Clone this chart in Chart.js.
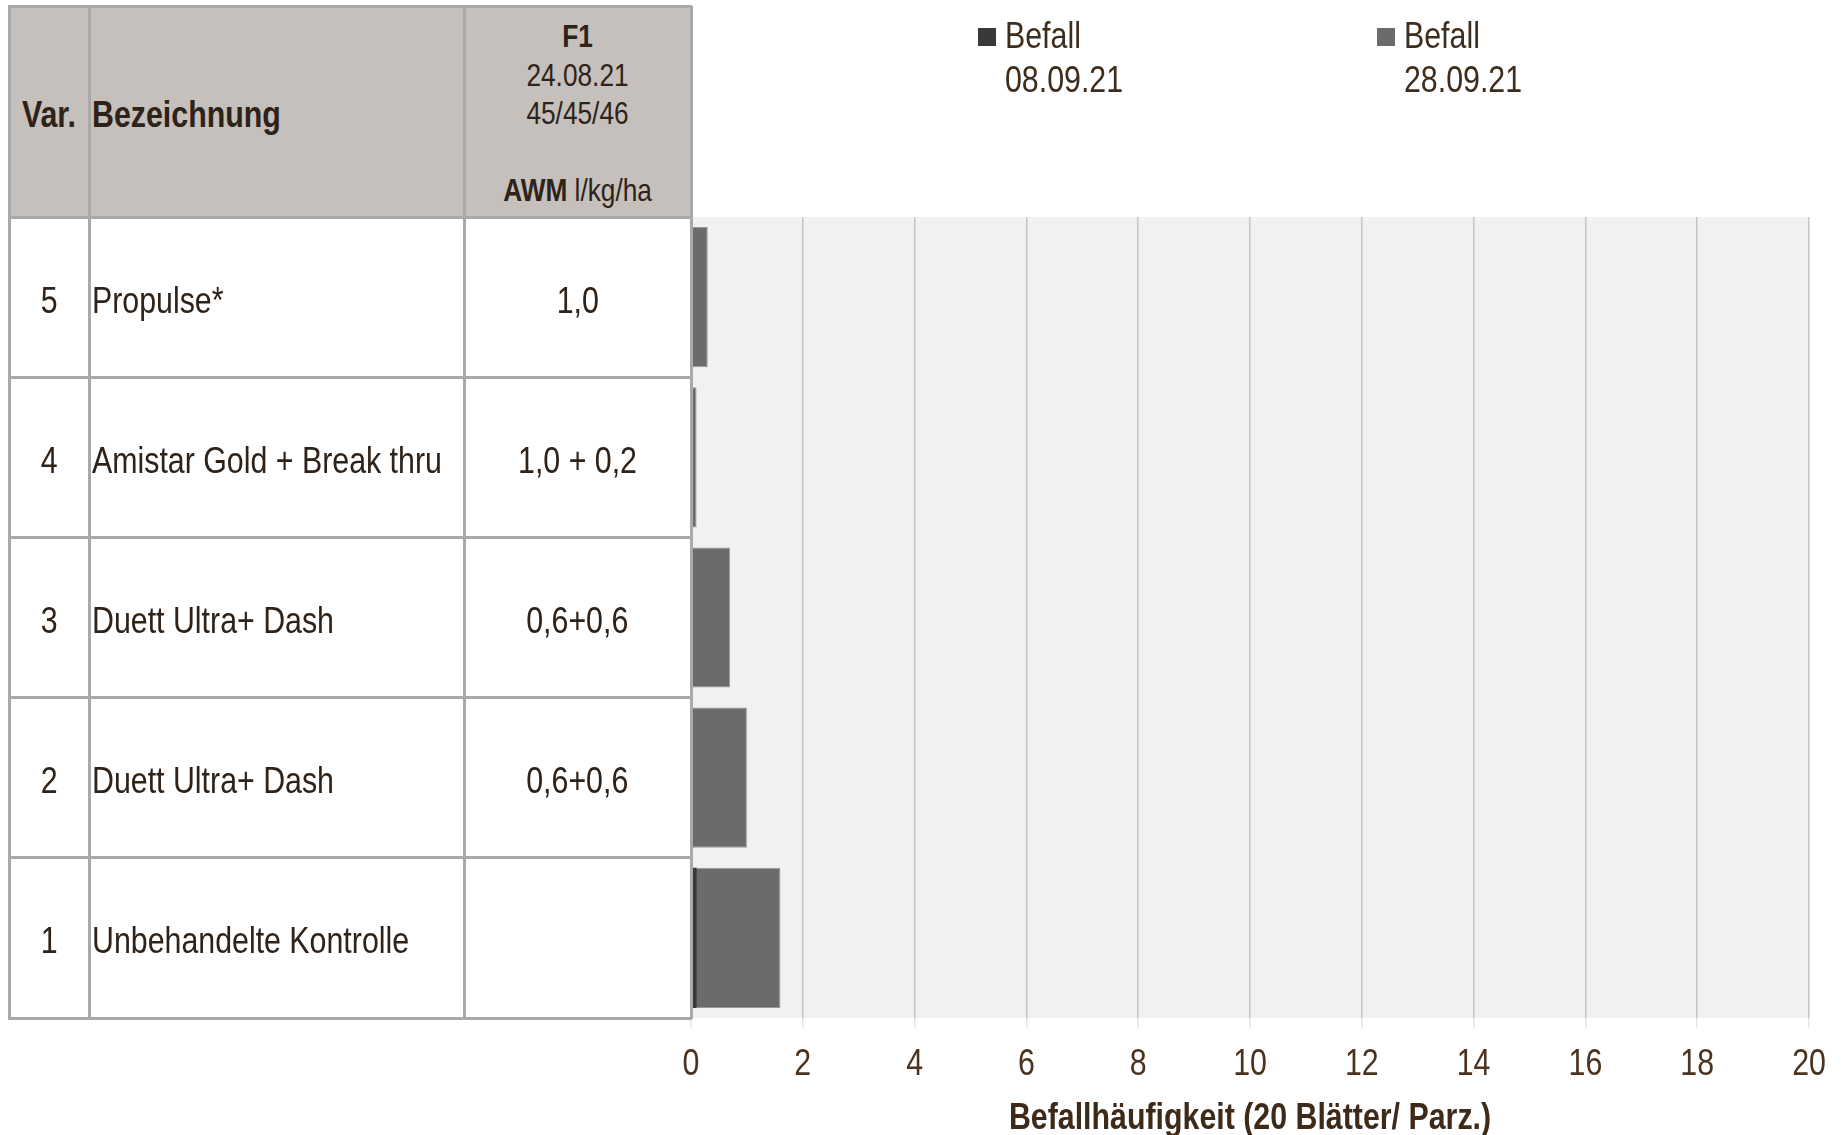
<!DOCTYPE html>
<html>
<head>
<meta charset="utf-8">
<script src="https://cdn.jsdelivr.net/npm/chart.js@4.4.1/dist/chart.umd.min.js"></script>
<style>
html,body{margin:0;padding:0;background:#fff;width:1841px;height:1135px;overflow:hidden;}
body{position:relative;font-family:"Liberation Sans",Arial,sans-serif;color:#2e2219;}
#chart{position:absolute;left:0;top:0;}
.cell{position:absolute;box-sizing:border-box;display:flex;align-items:center;white-space:nowrap;font-size:37px;line-height:44px;}
.row{padding-top:7px;}
.n{display:inline-block;transform:scaleX(0.82);white-space:nowrap;}
.c{transform-origin:center center;}
.l{transform-origin:left center;}
.hline,.vline{position:absolute;background:#a9a9a9;}
.leg{position:absolute;font-size:37px;line-height:44px;color:#3e2c1c;white-space:nowrap;transform:scaleX(0.82);transform-origin:left top;}
.sw{position:absolute;width:18px;height:18px;}
</style>
</head>
<body>
<canvas id="chart" width="1841" height="1135"></canvas>
<div id="table"></div>
<div id="legend"></div>
<script>
// ---- data ----
const varNumbers = ['5', '4', '3', '2', '1'];
const treatments = ['Propulse*', 'Amistar Gold + Break thru', 'Duett Ultra+ Dash', 'Duett Ultra+ Dash', 'Unbehandelte Kontrolle'];
const rates = ['1,0', '1,0 + 0,2', '0,6+0,6', '0,6+0,6', ''];
const befall0809 = [0, 0, 0, 0, 0.1];
const befall2809 = [0.3, 0.1, 0.7, 1.0, 1.6];
const seriesNames = ['Befall', 'Befall'];
const seriesDates = ['08.09.21', '28.09.21'];
const headerVar = 'Var.';
const headerName = 'Bezeichnung';
const headerF1 = ['F1', '24.08.21', '45/45/46'];
const headerUnitBold = 'AWM';
const headerUnit = ' l/kg/ha';
const xTitle = 'Befallhäufigkeit (20 Blätter/ Parz.)';
const xMin = 0, xMax = 20, xStep = 2;

const colors = ['#393939', '#6b6b6b'];
const textBrown = '#4a331f';
const NARROW = 0.82;

const plotBg = {
  id: 'plotBg',
  beforeDraw(chart) {
    const {ctx, chartArea: a} = chart;
    ctx.save();
    ctx.fillStyle = '#f2f1ef';
    ctx.fillRect(a.left, a.top, a.right - a.left, a.bottom - a.top);
    ctx.restore();
  }
};

// condensed axis labels / title, placed with the x scale's own pixel mapping
function narrowText(ctx, text, x, y) {
  const w = ctx.measureText(text).width;
  ctx.fillText(text, x, y, w * NARROW);
}
const narrowAxis = {
  id: 'narrowAxis',
  afterDraw(chart) {
    const {ctx} = chart;
    const xs = chart.scales.x;
    ctx.save();
    ctx.fillStyle = textBrown;
    ctx.textAlign = 'center';
    ctx.textBaseline = 'alphabetic';
    ctx.font = '37px "Liberation Sans", Arial, sans-serif';
    xs.ticks.forEach(t => narrowText(ctx, String(t.label), xs.getPixelForValue(t.value), xs.top + 57));
    ctx.fillStyle = '#3e2a18';
    ctx.font = 'bold 37px "Liberation Sans", Arial, sans-serif';
    narrowText(ctx, xTitle, (xs.left + xs.right) / 2, xs.top + 111);
    ctx.restore();
  }
};

const chart = new Chart(document.getElementById('chart'), {
  type: 'bar',
  data: {
    labels: varNumbers,
    datasets: [
      {label: seriesNames[0] + ' ' + seriesDates[0], data: befall0809, backgroundColor: colors[0], borderWidth: 0},
      {label: seriesNames[1] + ' ' + seriesDates[1], data: befall2809, backgroundColor: colors[1], borderColor: '#9a9a9a', borderWidth: 1}
    ]
  },
  options: {
    indexAxis: 'y',
    responsive: false,
    devicePixelRatio: 1,
    animation: false,
    grouped: false,
    barPercentage: 0.875,
    categoryPercentage: 1,
    layout: {padding: {left: 691, right: 32, top: 217, bottom: 0}},
    plugins: {legend: {display: false}, tooltip: {enabled: false}},
    scales: {
      y: {display: false},
      x: {
        min: xMin, max: xMax,
        afterFit(scale) { scale.height = 117; },
        ticks: {stepSize: xStep, display: false},
        grid: {color: '#c4c4c4', lineWidth: 1.5, tickLength: 10, tickColor: '#e6e6e6'},
        border: {display: false},
        title: {display: false, text: xTitle}
      }
    }
  },
  plugins: [plotBg, narrowAxis]
});

// ---- table built from the chart's own category scale ----
(function buildTable() {
  const t = document.getElementById('table');
  const a = chart.chartArea;
  const ys = chart.scales.y;
  const n = varNumbers.length;
  const rowH = (a.bottom - a.top) / n;
  const X = [9, 89, 464, a.left];
  const headTop = 6, headBot = a.top;
  const add = (html) => t.insertAdjacentHTML('beforeend', html);
  add(`<div style="position:absolute;left:${X[0]}px;top:${headTop}px;width:${X[3]-X[0]}px;height:${headBot-headTop}px;background:#c5c0bb"></div>`);
  add(`<div class="cell" style="left:${X[0]}px;top:${headTop}px;width:${X[1]-X[0]}px;height:${headBot-headTop+6}px;justify-content:center;font-weight:bold;color:#2e2219"><span class="n c">${headerVar}</span></div>`);
  add(`<div class="cell" style="left:${X[1]+3}px;top:${headTop}px;width:${X[2]-X[1]}px;height:${headBot-headTop+6}px;font-weight:bold;color:#2e2219"><span class="n l">${headerName}</span></div>`);
  const f1 = headerF1.map((s, i) => i === 0 ? `<b>${s}</b>` : s).join('<br>');
  add(`<div style="position:absolute;left:${X[2]}px;top:17px;width:${X[3]-X[2]}px;text-align:center;font-size:32px;line-height:38.5px;color:#2e2219;transform:scaleX(${NARROW});transform-origin:center top">${f1}<br>&nbsp;<br><b>${headerUnitBold}</b>${headerUnit}</div>`);
  for (let i = 0; i < n; i++) {
    const c = ys.getPixelForValue(i);
    const top = c - rowH / 2;
    add(`<div class="cell row" style="left:${X[0]}px;top:${top}px;width:${X[1]-X[0]}px;height:${rowH}px;justify-content:center"><span class="n c">${varNumbers[i]}</span></div>`);
    add(`<div class="cell row" style="left:${X[1]+3}px;top:${top}px;width:${X[2]-X[1]}px;height:${rowH}px"><span class="n l">${treatments[i]}</span></div>`);
    add(`<div class="cell row" style="left:${X[2]}px;top:${top}px;width:${X[3]-X[2]}px;height:${rowH}px;justify-content:center"><span class="n c">${rates[i]}</span></div>`);
  }
  const lw = 3;
  const hY = [headTop, headBot];
  for (let i = 1; i <= n; i++) hY.push(a.top + i * rowH);
  hY.forEach(y => add(`<div class="hline" style="left:${X[0]-1}px;top:${y-lw/2}px;width:${X[3]-X[0]+2}px;height:${lw}px"></div>`));
  X.forEach(x => add(`<div class="vline" style="left:${x-lw/2}px;top:${headTop}px;width:${lw}px;height:${a.bottom-headTop+1}px"></div>`));
})();

// ---- legend ----
(function buildLegend() {
  const l = document.getElementById('legend');
  const pos = [978, 1377];
  seriesDates.forEach((d, i) => {
    l.insertAdjacentHTML('beforeend',
      `<div class="sw" style="left:${pos[i]}px;top:28px;background:${colors[i]}"></div>` +
      `<div class="leg" style="left:${pos[i]+27}px;top:14px">${seriesNames[i]}<br>${d}</div>`);
  });
})();
</script>
</body>
</html>
